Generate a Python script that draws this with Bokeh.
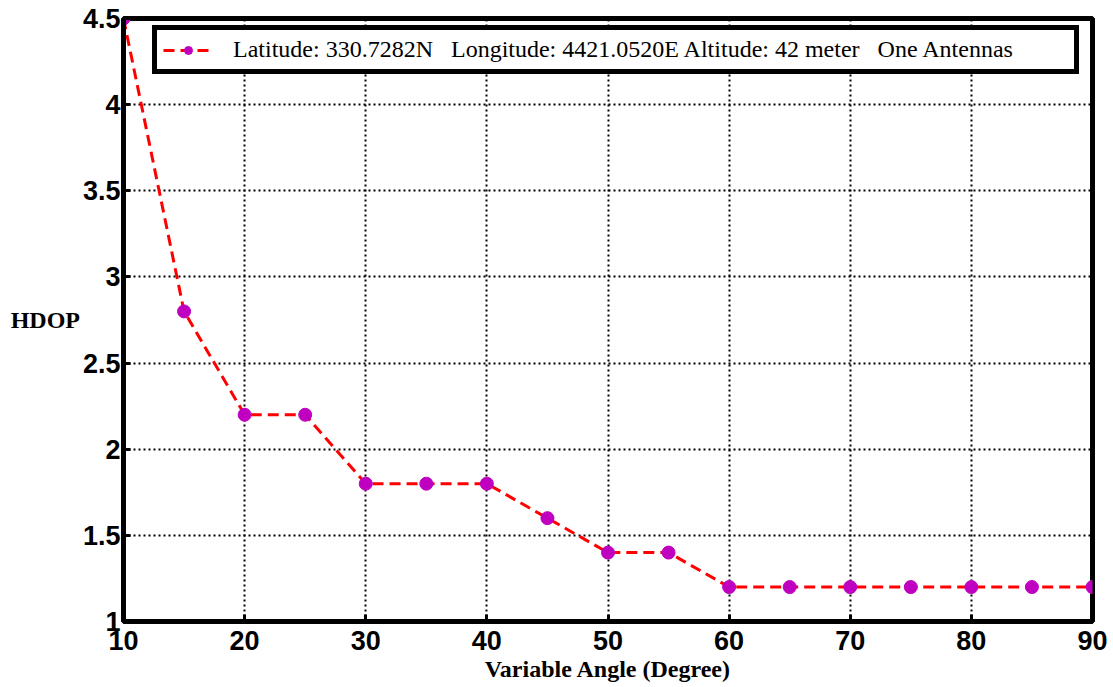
from bokeh.plotting import figure
from bokeh.models import Range1d, FixedTicker, Legend, LegendItem
from bokeh.embed import file_html
from bokeh.resources import INLINE

angles = [10, 15, 20, 25, 30, 35, 40, 45, 50, 55, 60, 65, 70, 75, 80, 85, 90]
hdop = [4.5, 2.8, 2.2, 2.2, 1.8, 1.8, 1.8, 1.6, 1.4, 1.4, 1.2, 1.2, 1.2, 1.2, 1.2, 1.2, 1.2]
x_ticks = [10, 20, 30, 40, 50, 60, 70, 80, 90]
y_ticks = [1, 1.5, 2, 2.5, 3, 3.5, 4, 4.5]
legend_text = "Latitude: 330.7282N\u00a0\u00a0\u00a0Longitude: 4421.0520E Altitude: 42 meter\u00a0\u00a0\u00a0One Antennas"

p = figure(width=1113, height=687, output_backend="svg", toolbar_location=None,
           x_range=Range1d(10, 90), y_range=Range1d(1, 4.5))
p.min_border_left = 123
p.min_border_right = 21
p.min_border_top = 18
p.min_border_bottom = 66
p.background_fill_color = "white"
p.border_fill_color = "white"
p.outline_line_color = "black"
p.outline_line_width = 5

for ax in (p.xaxis[0], p.yaxis[0]):
    ax.axis_line_width = 5
    ax.axis_line_color = "black"
    ax.major_tick_in = 7
    ax.major_tick_out = 0
    ax.major_tick_line_width = 3
    ax.minor_tick_line_color = None
    ax.major_label_text_font = "Liberation Sans"
    ax.major_label_text_font_style = "bold"
    ax.major_label_text_font_size = "27px"
    ax.major_label_text_color = "black"
    ax.axis_label_text_font = "Liberation Serif"
    ax.axis_label_text_font_style = "bold"
    ax.axis_label_text_font_size = "24px"
    ax.axis_label_text_color = "black"

p.xaxis.ticker = FixedTicker(ticks=x_ticks)
p.yaxis.ticker = FixedTicker(ticks=y_ticks)
p.xaxis.major_label_standoff = 9
p.yaxis.major_label_standoff = 3
p.xaxis.axis_label = "Variable Angle (Degree)"
p.xaxis.axis_label_standoff = 3
p.yaxis.axis_label = "HDOP"
p.yaxis.axis_label_orientation = "horizontal"
p.yaxis.axis_label_standoff = 0

for g in (p.xgrid[0], p.ygrid[0]):
    g.grid_line_color = "black"
    g.grid_line_width = 2
    g.grid_line_dash = "2 3"
    g.grid_line_alpha = 1.0

ln = p.line(angles, hdop, line_color="red", line_width=3, line_dash="11 6")
mk = p.scatter(angles, hdop, marker="circle", size=13, fill_color="#c000c0",
               line_color="#c000c0")

legend = Legend(items=[LegendItem(label=legend_text, renderers=[ln, mk])],
                location=(29, 547))
legend.label_text_font = "Liberation Serif"
legend.label_text_font_size = "24px"
legend.label_text_color = "black"
legend.label_width = 835
legend.glyph_width = 50
legend.glyph_height = 20
legend.label_standoff = 20
legend.padding = 6
legend.spacing = 0
legend.margin = 0
legend.border_line_color = "black"
legend.border_line_alpha = 1.0
legend.border_line_width = 5
legend.background_fill_color = "white"
legend.background_fill_alpha = 1.0
p.add_layout(legend, "center")

open("out.html", "w").write(file_html(p, INLINE))
